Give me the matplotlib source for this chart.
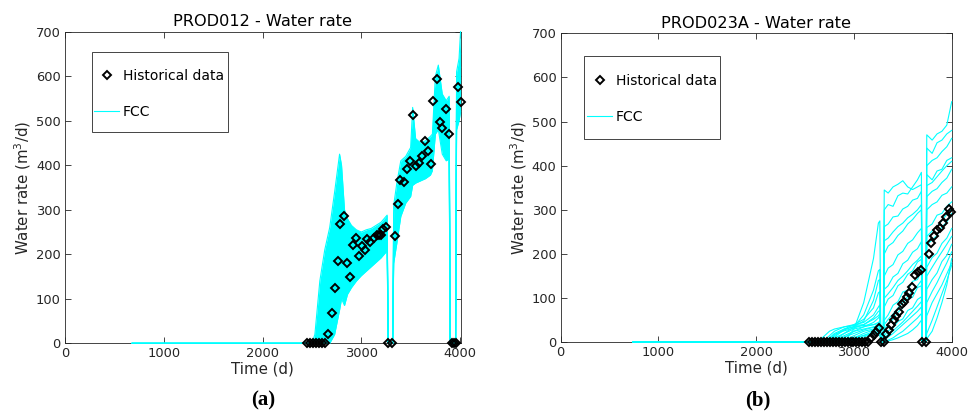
import numpy as np
import matplotlib
matplotlib.use('Agg')
import matplotlib.pyplot as plt
from matplotlib.patches import Rectangle
from matplotlib.lines import Line2D

# ---- PROD012 (a) ----
histL_t = [2450, 2480, 2510, 2540, 2570, 2600, 2630,
           2665, 2705, 2733, 2760, 2786, 2827, 2851, 2885, 2912, 2945, 2972, 3006, 3033,
           3060, 3087, 3127, 3154, 3181, 3195, 3221, 3255,
           3272, 3306,
           3337, 3374, 3391, 3431, 3458, 3492, 3525, 3553, 3580, 3610, 3644, 3677, 3701,
           3728, 3765, 3795, 3816, 3856, 3889,
           3915, 3935, 3955,
           3977, 4005]
histL_q = [0, 0, 0, 0, 0, 0, 0,
           21, 69, 125, 185, 269, 287, 180, 150, 220, 237, 197, 219, 209,
           234, 228, 237, 243, 243, 244, 256, 262,
           0, 0,
           240, 312, 367, 363, 391, 410, 513, 398, 406, 421, 454, 432, 403,
           545, 594, 498, 483, 526, 470,
           0, 0, 0,
           575, 543]

fccL_t = [680, 2500, 2530, 2580, 2630, 2680, 2730, 2780, 2800, 2830, 2860, 2900, 2950,
          3000, 3050, 3100, 3150, 3200, 3250, 3262, 3272, 3318, 3328, 3360, 3400, 3450,
          3500, 3520, 3550, 3600, 3650, 3700, 3720, 3750, 3780, 3820, 3860, 3890, 3900,
          3955, 3965, 3990, 4005]
fccL = [
    [0, 0, 20, 140, 210, 260, 340, 425, 400, 300, 280, 265, 255, 250, 255, 258, 265, 272, 285, 288,
     0, 0, 310, 360, 410, 420, 440, 530, 460, 450, 455, 465, 470, 600, 625, 560, 545, 555, 0, 0, 610, 640, 700],
    [0, 0, 0, 90, 170, 230, 300, 380, 360, 270, 255, 245, 240, 238, 242, 248, 255, 262, 270, 272,
     0, 0, 290, 330, 385, 400, 420, 480, 440, 435, 440, 448, 455, 570, 590, 530, 520, 525, 0, 0, 590, 610, 650],
    [0, 0, 0, 40, 120, 190, 260, 330, 320, 240, 230, 225, 222, 225, 230, 236, 243, 250, 258, 260,
     0, 0, 260, 300, 360, 380, 400, 440, 420, 420, 425, 430, 440, 540, 560, 500, 495, 500, 0, 0, 560, 580, 620],
    [0, 0, 0, 0, 60, 140, 210, 280, 270, 200, 205, 205, 205, 210, 215, 222, 230, 238, 245, 247,
     0, 0, 230, 280, 340, 360, 380, 410, 400, 405, 410, 415, 425, 520, 540, 480, 470, 475, 0, 0, 540, 560, 590],
    [0, 0, 0, 0, 10, 80, 150, 220, 215, 160, 175, 180, 185, 190, 196, 204, 212, 220, 228, 230,
     0, 0, 210, 260, 320, 345, 360, 390, 385, 390, 395, 400, 410, 500, 515, 460, 445, 450, 0, 0, 520, 540, 565],
    [0, 0, 0, 0, 0, 20, 80, 150, 160, 120, 140, 150, 160, 170, 178, 186, 195, 203, 212, 215,
     0, 0, 190, 240, 300, 330, 345, 370, 370, 375, 380, 385, 395, 480, 495, 440, 425, 430, 0, 0, 500, 515, 540],
    [0, 0, 0, 0, 0, 0, 20, 75, 100, 85, 110, 125, 140, 152, 162, 172, 182, 192, 205, 208,
     0, 0, 180, 225, 285, 315, 330, 355, 360, 365, 370, 378, 388, 470, 480, 425, 410, 415, 0, 0, 480, 500, 520],
]

# ---- PROD023A (b) ----
histR_t = [2545, 2575, 2605, 2635, 2665, 2695, 2725, 2755, 2785, 2815, 2845, 2875, 2905, 2935,
           2965, 2995, 3025, 3055, 3085, 3115, 3145,
           3179, 3203, 3230, 3257,
           3274, 3308,
           3332, 3359, 3384, 3407, 3435, 3461, 3489, 3512, 3540, 3564, 3594, 3622, 3656, 3683,
           3697, 3734,
           3765, 3786, 3820, 3854, 3885, 3911, 3946, 3972, 3995]
histR_q = [0, 0, 0, 0, 0, 0, 0, 0, 0, 0, 0, 0, 0, 0,
           0, 0, 0, 0, 0, 0, 0,
           9, 16, 24, 32,
           0, 0,
           19, 28, 39, 50, 60, 69, 87, 92, 103, 111, 126, 152, 160, 164,
           0, 0,
           200, 226, 241, 254, 258, 271, 283, 301, 296]

fccR_t = [740, 2600, 2650, 2700, 2750, 2800, 2900, 3000, 3100, 3200, 3250, 3265, 3275, 3300,
          3310, 3350, 3400, 3450, 3500, 3550, 3600, 3650, 3690, 3700, 3735, 3745, 3800, 3850,
          3900, 3950, 4000]
fccR = [
    [0, 0, 0, 0, 0, 0, 0, 30, 90, 190, 270, 275, 0, 0, 345, 338, 352, 358, 366, 352, 346, 352, 357, 0, 0, 470, 458, 472, 478, 492, 545],
    [0, 0, 0, 0, 0, 5, 20, 35, 62, 118, 162, 165, 0, 0, 300, 312, 308, 332, 338, 336, 352, 368, 385, 0, 0, 440, 428, 452, 458, 472, 480],
    [0, 0, 0, 0, 5, 15, 30, 40, 52, 78, 112, 115, 0, 0, 262, 268, 284, 286, 302, 308, 322, 326, 342, 0, 0, 400, 412, 418, 432, 443, 462],
    [0, 0, 0, 5, 15, 25, 35, 40, 45, 62, 80, 85, 0, 0, 200, 218, 226, 242, 252, 268, 278, 292, 300, 0, 0, 380, 368, 388, 392, 412, 418],
    [0, 0, 5, 15, 25, 30, 35, 38, 40, 52, 60, 65, 0, 0, 150, 168, 176, 198, 206, 224, 232, 248, 258, 0, 0, 330, 342, 348, 362, 372, 392],
    [0, 0, 0, 0, 0, 0, 10, 25, 35, 45, 55, 60, 0, 0, 120, 128, 148, 156, 178, 186, 204, 212, 228, 0, 0, 300, 312, 318, 333, 338, 352],
    [0, 0, 0, 0, 0, 10, 20, 30, 35, 40, 45, 48, 0, 0, 80, 98, 106, 128, 136, 154, 162, 182, 188, 0, 0, 260, 268, 288, 292, 308, 318],
    [0, 0, 0, 0, 10, 20, 30, 35, 38, 40, 42, 42, 0, 0, 50, 62, 84, 92, 114, 118, 138, 142, 162, 0, 0, 220, 232, 242, 262, 272, 292],
    [0, 0, 0, 0, 0, 5, 15, 25, 30, 35, 38, 40, 0, 0, 30, 42, 52, 68, 78, 98, 102, 124, 128, 0, 0, 170, 192, 202, 224, 236, 258],
    [0, 0, 0, 0, 0, 0, 5, 15, 25, 30, 35, 36, 0, 0, 15, 26, 33, 47, 53, 72, 78, 97, 103, 0, 0, 120, 142, 157, 183, 197, 222],
    [0, 0, 0, 0, 0, 0, 0, 10, 20, 28, 32, 33, 0, 0, 5, 12, 20, 30, 40, 50, 60, 70, 80, 0, 0, 60, 90, 110, 130, 155, 180],
    [0, 0, 0, 0, 0, 0, 0, 5, 12, 20, 25, 26, 0, 0, 2, 5, 10, 18, 25, 35, 45, 55, 65, 0, 0, 20, 50, 80, 110, 140, 175],
    [0, 0, 0, 0, 0, 0, 5, 10, 15, 20, 22, 22, 0, 0, 0, 3, 6, 10, 15, 20, 28, 38, 50, 0, 0, 8, 25, 55, 90, 130, 190],
    [0, 0, 0, 0, 3, 12, 28, 36, 48, 95, 140, 142, 0, 0, 230, 236, 250, 262, 270, 282, 290, 300, 312, 0, 0, 355, 362, 375, 388, 400, 410],
    [0, 0, 0, 2, 8, 18, 26, 32, 40, 55, 70, 72, 0, 0, 100, 110, 124, 140, 150, 162, 176, 186, 196, 0, 0, 240, 252, 262, 276, 290, 302],
    [0, 0, 0, 0, 0, 4, 12, 20, 28, 34, 40, 41, 0, 0, 40, 52, 64, 78, 90, 104, 116, 128, 140, 0, 0, 150, 170, 188, 205, 222, 240],
    [0, 0, 0, 0, 0, 0, 2, 8, 16, 24, 28, 29, 0, 0, 10, 18, 26, 36, 46, 58, 70, 82, 92, 0, 0, 90, 115, 135, 158, 180, 205],
]

titles = ['PROD012 - Water rate', 'PROD023A - Water rate']
panel_tags = ['(a)', '(b)']

cyan = '#00FFFF'
axcol = '#262626'

plt.rcParams['font.family'] = 'DejaVu Sans'
fig = plt.figure(figsize=(9.78, 4.12), dpi=100)

# axes boxes in figure fractions, plus legend frame and entries in axes fractions
boxes = [[0.0665, 0.1667, 0.4046, 0.7563], [0.5733, 0.1692, 0.4001, 0.7500]]
xlims = [4007, 4003]
leg_frames = [(0.0675, 0.677, 0.3445, 0.259), (0.0595, 0.659, 0.3475, 0.2685)]
leg_anchor = [(0.074, 0.800), (0.068, 0.788)]
tag_x = [263, 758]

data = [(histL_t, histL_q, fccL_t, fccL, True), (histR_t, histR_q, fccR_t, fccR, False)]

for i, (ht, hq, ft, fm, dense) in enumerate(data):
    ax = fig.add_axes(boxes[i])
    fm = np.array(fm, dtype=float)
    if dense:
        ax.fill_between(ft, fm.min(axis=0), fm.max(axis=0), color=cyan, lw=0, zorder=3)
    for row in fm:
        ax.plot(ft, row, color=cyan, lw=0.8, zorder=3, clip_on=False)
    ax.plot(ht, hq, ls='none', marker='D', ms=3.6, mfc='none', mec='black', mew=1.4, zorder=4,
            clip_on=False)

    ax.set_xlim(0, xlims[i])
    ax.set_ylim(0, 700)
    ax.set_xticks([0, 1000, 2000, 3000, 4000])
    ax.set_yticks(range(0, 701, 100))
    ax.tick_params(direction='in', top=True, right=True, length=4, width=0.6,
                   colors=axcol, labelsize=9.4, pad=3)
    for s in ax.spines.values():
        s.set_color(axcol)
        s.set_linewidth(0.6)
    ax.set_title(titles[i], fontsize=11.6, color='black', pad=4)
    ax.set_xlabel('Time (d)', fontsize=10.8, color=axcol, labelpad=1)
    ax.set_ylabel('Water rate (m$^3$/d)', fontsize=10.8, color=axcol, labelpad=2)

    fx, fy, fw, fh = leg_frames[i]
    ax.add_patch(Rectangle((fx, fy), fw, fh, transform=ax.transAxes, fill=False,
                           ec=axcol, lw=0.6, zorder=5))
    handles = [Line2D([], [], ls='none', marker='D', ms=3.6, mfc='none', mec='black', mew=1.4),
               Line2D([], [], color=cyan, lw=0.8)]
    ax.legend(handles, ['Historical data', 'FCC'], loc='center left',
              bbox_to_anchor=leg_anchor[i], frameon=False, fontsize=10,
              borderpad=0, labelspacing=1.6, handlelength=1.8, handletextpad=0.25,
              borderaxespad=0, numpoints=1)

    fig.text(tag_x[i] / 978, 1 - 400 / 412, panel_tags[i], ha='center', va='center',
             fontsize=15, fontweight='bold', family='Liberation Serif')

fig.savefig('out.png', dpi=100)
